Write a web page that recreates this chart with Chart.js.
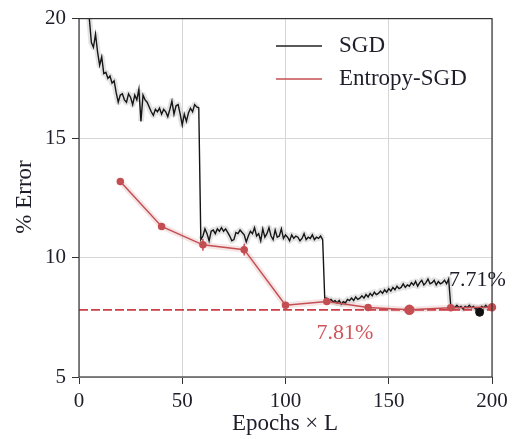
<!DOCTYPE html>
<html>
<head>
<meta charset="utf-8">
<script src="https://cdn.jsdelivr.net/npm/chart.js@4.4.1/dist/chart.umd.min.js"></script>
<style>
html,body{margin:0;padding:0;background:#fff;}
#wrap{width:514px;height:439px;position:relative;}
</style>
</head>
<body>
<div id="wrap"><canvas id="c" width="514" height="439"></canvas></div>
<script>
// ---------- data ----------
const sgdStartEpoch = 4;
const sgdError = [
  20.6, 20.0, 19.0, 18.8, 19.35, 18.6, 18.05, 18.4, 17.7, 17.75,      // 4-13
  17.5, 17.6, 17.3, 17.4, 16.9, 16.5, 16.8, 16.85, 16.6, 16.5,        // 14-23
  16.85, 16.7, 16.4, 16.8, 16.6, 17.05, 15.7, 16.8, 16.6, 16.5,       // 24-33
  16.3, 16.1, 15.95, 16.2, 16.1, 16.25, 16.0, 16.2, 16.1, 15.9,       // 34-43
  16.2, 16.55, 16.0, 16.35, 16.4, 16.0, 15.55, 16.0, 15.7, 16.05,     // 44-53
  16.25, 16.1, 16.4, 16.3, 16.27, 10.75, 10.9, 11.2, 11.0, 10.7,      // 54-63
  11.1, 11.15, 11.0, 11.2, 11.1, 11.25, 11.1, 11.2, 11.05, 10.9,      // 64-73
  10.7, 10.75, 11.05, 11.0, 11.15, 11.05, 10.95, 10.65, 10.9, 11.1,   // 74-83
  11.0, 11.25, 10.9, 11.0, 10.7, 11.2, 10.85, 11.0, 11.25, 10.9,      // 84-93
  10.75, 11.15, 10.85, 10.9, 11.2, 10.8, 10.95, 10.85, 10.7, 10.95,   // 94-103
  10.8, 10.9, 10.85, 10.7, 10.8, 11.0, 10.75, 10.85, 10.8, 10.95,     // 104-113
  10.75, 10.85, 10.8, 10.9, 10.75, 8.3, 8.3, 8.2, 8.25, 8.15,         // 114-123
  8.2, 8.1, 8.2, 8.05, 8.15, 8.1, 8.25, 8.2, 8.3, 8.2,                // 124-133
  8.35, 8.25, 8.3, 8.4, 8.3, 8.45, 8.35, 8.5, 8.4, 8.55,              // 134-143
  8.45, 8.5, 8.6, 8.5, 8.65, 8.55, 8.7, 8.6, 8.75, 8.65,              // 144-153
  8.8, 8.7, 8.75, 8.9, 8.75, 8.85, 8.8, 8.95, 8.85, 9.0,              // 154-163
  8.8, 8.95, 9.05, 8.85, 8.95, 9.1, 8.9, 8.95, 9.05, 8.85,            // 164-173
  9.0, 8.9, 8.95, 9.05, 8.9, 9.1, 8.0, 7.95, 7.9, 8.0,                // 174-183
  7.9, 7.95, 7.85, 7.95, 7.9, 8.0, 7.9, 7.95, 7.85, 7.9,              // 184-193
  7.85, 7.95, 7.9, 8.0, 7.9, 7.95, 7.95                               // 194-200
];
const entEpochs = [20, 40, 60, 80, 100, 120, 140, 160, 180, 200];
const entError  = [13.18, 11.3, 10.53, 10.33, 8.0, 8.16, 7.91, 7.81, 7.9, 7.92];
const entErrBar = [0, 0, 0.25, 0.25, 0, 0, 0, 0, 0, 0];
const entBest = 7.81;
const sgdBestEpoch = 194;
const sgdBest = 7.71;
const xTicks = [0, 50, 100, 150, 200];
const yTicks = [5, 10, 15, 20];
const labels = { sgd: 'SGD', ent: 'Entropy-SGD', x: 'Epochs \u00d7 L', y: '% Error',
                 sgdBest: '7.71%', entBest: '7.81%' };

// ---------- build ----------
const RED = '#c44e52';
const TXT = '#1e1e2a';
const FONT = "'Liberation Serif', 'Times New Roman', serif";
const sgdPts = sgdError.map((v, i) => ({ x: sgdStartEpoch + i, y: v }));
const entPts = entEpochs.map((e, i) => ({ x: e, y: entError[i] }));
const bigJump = ctx => Math.abs(ctx.p0.parsed.y - ctx.p1.parsed.y) > 1.2;

const extras = {
  id: 'extras',
  afterDatasetsDraw(chart) {
    const { ctx, scales: { x, y } } = chart;
    ctx.save();
    ctx.strokeStyle = RED; ctx.lineWidth = 1.5;
    entEpochs.forEach((e, i) => {
      if (!entErrBar[i]) return;
      const px = x.getPixelForValue(e);
      ctx.beginPath();
      ctx.moveTo(px, y.getPixelForValue(entError[i] - entErrBar[i]));
      ctx.lineTo(px, y.getPixelForValue(entError[i] + entErrBar[i]));
      ctx.stroke();
    });
    ctx.restore();
  },
  afterDraw(chart) {
    const { ctx, chartArea: a } = chart;
    ctx.save();
    ctx.strokeStyle = '#333'; ctx.lineWidth = 1.2;
    ctx.strokeRect(a.left, a.top, a.right - a.left, a.bottom - a.top);
    // legend
    ctx.lineWidth = 1.3;
    ctx.strokeStyle = '#222';
    ctx.beginPath(); ctx.moveTo(276, 46); ctx.lineTo(322, 46); ctx.stroke();
    ctx.strokeStyle = RED;
    ctx.beginPath(); ctx.moveTo(276, 79); ctx.lineTo(322, 79); ctx.stroke();
    ctx.fillStyle = TXT;
    ctx.font = '23px ' + FONT;
    ctx.textBaseline = 'middle'; ctx.textAlign = 'left';
    ctx.fillText(labels.sgd, 339, 46);
    ctx.fillText(labels.ent, 339, 79);
    // annotations
    ctx.font = '22px ' + FONT;
    ctx.fillText(labels.sgdBest, 449, 280);
    ctx.fillStyle = '#d0545a';
    ctx.textAlign = 'center';
    ctx.fillText(labels.entBest, 345, 333);
    // axis titles
    ctx.fillStyle = TXT;
    ctx.font = '23px ' + FONT;
    ctx.fillText(labels.x, 285, 424);
    ctx.translate(25, 197);
    ctx.rotate(-Math.PI / 2);
    ctx.fillText(labels.y, 0, 0);
    ctx.restore();
  }
};

new Chart(document.getElementById('c'), {
  type: 'line',
  data: {
    datasets: [
      { data: [{ x: sgdBestEpoch, y: sgdBest }], showLine: false, pointRadius: 4,
        pointBackgroundColor: '#111', pointBorderColor: '#111', order: 0 },
      { data: entPts, borderColor: RED, borderWidth: 1.5, pointRadius: [3, 3, 3, 3, 3, 3, 3, 4.5, 3, 3.5],
        pointBackgroundColor: RED, pointBorderColor: RED, clip: false, order: 1 },
      { data: sgdPts, borderColor: '#151515', borderWidth: 1.4, pointRadius: 0, order: 2 },
      { data: [{ x: 0, y: entBest }, { x: 200, y: entBest }], borderColor: '#cc3f48', borderWidth: 1.6,
        borderDash: [9, 3], pointRadius: 0, order: 3 },
      { data: entPts, borderColor: 'rgba(196,78,82,0.15)', borderWidth: 6, pointRadius: 0, order: 4 },
      { data: sgdPts, borderColor: 'rgba(0,0,0,0.11)', borderWidth: 6, pointRadius: 0,
        borderJoinStyle: 'round',
        segment: { borderColor: c => bigJump(c) ? 'rgba(0,0,0,0)' : undefined }, order: 5 }
    ]
  },
  options: {
    responsive: false,
    animation: false,
    events: [],
    layout: { padding: { left: 0, right: 22, top: 16, bottom: 0 } },
    plugins: { legend: { display: false }, tooltip: { enabled: false } },
    scales: {
      x: {
        type: 'linear', min: 0, max: 200,
        afterFit: s => { s.height = 62; },
        afterBuildTicks: s => { s.ticks = xTicks.map(v => ({ value: v })); },
        ticks: { color: TXT, font: { family: FONT, size: 21 }, padding: 5, maxRotation: 0 },
        grid: { color: '#d6d6d6', lineWidth: 1, tickColor: '#333', tickLength: 7 },
        border: { display: false }
      },
      y: {
        type: 'linear', min: 5, max: 20,
        afterFit: s => { s.width = 79; },
        afterBuildTicks: s => { s.ticks = yTicks.map(v => ({ value: v })); },
        ticks: { color: TXT, font: { family: FONT, size: 21 }, padding: 6 },
        grid: { color: '#d6d6d6', lineWidth: 1, tickColor: '#333', tickLength: 7 },
        border: { display: false }
      }
    }
  },
  plugins: [extras]
});
</script>
</body>
</html>
